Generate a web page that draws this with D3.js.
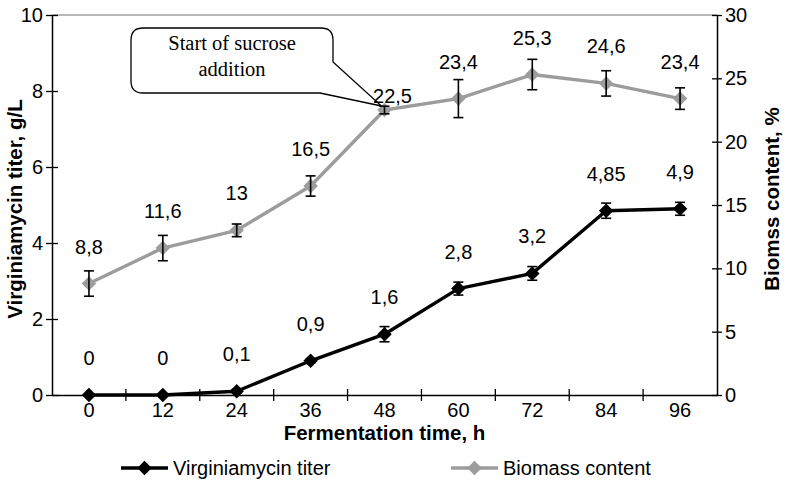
<!DOCTYPE html>
<html>
<head>
<meta charset="utf-8">
<script src="https://cdn.jsdelivr.net/npm/d3@7"></script>
<style>
  html, body { margin: 0; padding: 0; background: #fff; }
  svg { display: block; font-family: "Liberation Sans", Arial, sans-serif; }
</style>
</head>
<body>
<svg id="chart" width="786" height="499"></svg>
<script>
// ---- data ----
const hours = ["0", "12", "24", "36", "48", "60", "72", "84", "96"];
const titer = [0, 0, 0.1, 0.9, 1.6, 2.8, 3.2, 4.85, 4.9];
const titerErr = [0, 0, 0.05, 0.05, 0.2, 0.17, 0.18, 0.2, 0.17];
const titerLabels = ["0", "0", "0,1", "0,9", "1,6", "2,8", "3,2", "4,85", "4,9"];
const biomass = [8.8, 11.6, 13, 16.5, 22.5, 23.4, 25.3, 24.6, 23.4];
const biomassErr = [1.0, 1.0, 0.5, 0.8, 0.3, 1.5, 1.2, 1.0, 0.85];
const biomassLabels = ["8,8", "11,6", "13", "16,5", "22,5", "23,4", "25,3", "24,6", "23,4"];
const leftTicks = [0, 2, 4, 6, 8, 10];
const rightTicks = [0, 5, 10, 15, 20, 25, 30];
const seriesNames = ["Virginiamycin titer", "Biomass content"];
const calloutText = ["Start of sucrose", "addition"];

// ---- layout ----
const L = 52, R = 717, T = 15, B = 395;
const BLACK = "#000", GRAY = "#9c9c9c";
const svg = d3.select("#chart");

const x = d3.scaleBand().domain(hours).range([L, R]).padding(0);
const cx = h => x(h) + x.bandwidth() / 2;
const yL = d3.scaleLinear().domain([0, 10]).range([B, T]);
const yR = d3.scaleLinear().domain([0, 30]).range([B, T]);

// top border
svg.append("line").attr("x1", L).attr("x2", R).attr("y1", T).attr("y2", T)
  .attr("stroke", "#a0a0a0").attr("stroke-width", 1.5);

// axes
function styleAxis(g) {
  g.selectAll(".domain").attr("stroke", "#000").attr("stroke-width", 1.5);
  g.selectAll(".tick line").attr("stroke", "#000").attr("stroke-width", 1.3);
  g.selectAll("text").attr("font-size", 20).attr("fill", "#000")
    .attr("font-family", "Liberation Sans, Arial, sans-serif");
}
const gx = svg.append("g").attr("transform", `translate(0,${B})`)
  .call(d3.axisBottom(x).tickSize(0).tickPadding(8).tickSizeOuter(0));
styleAxis(gx);
gx.selectAll(".tick line").remove();
// crossing tick marks at category boundaries
const bounds = hours.map(h => x(h)).slice(1);
gx.selectAll(".bnd").data(bounds).join("line").attr("class", "bnd")
  .attr("x1", d => d).attr("x2", d => d).attr("y1", -6).attr("y2", 6)
  .attr("stroke", "#000").attr("stroke-width", 1.3);

const gl = svg.append("g").attr("transform", `translate(${L},0)`)
  .call(d3.axisLeft(yL).tickValues(leftTicks).tickSize(6).tickPadding(4).tickSizeOuter(0));
styleAxis(gl);
gl.selectAll(".tick line").attr("x2", 6).attr("x1", -6);
gl.selectAll(".tick text").attr("x", -9);

const gr = svg.append("g").attr("transform", `translate(${R},0)`)
  .call(d3.axisRight(yR).tickValues(rightTicks).tickSize(5).tickPadding(4).tickSizeOuter(0));
styleAxis(gr);
gr.selectAll(".tick line").attr("x1", -5).attr("x2", 5);
gr.selectAll(".tick text").attr("x", 8);

// axis titles
svg.append("text").attr("x", (L + R) / 2).attr("y", 433).attr("dy", "0.35em")
  .attr("text-anchor", "middle").attr("font-size", 20.5).attr("font-weight", "bold")
  .text("Fermentation time, h");
svg.append("text").attr("transform", "translate(15,209) rotate(-90)").attr("dy", "0.35em")
  .attr("text-anchor", "middle").attr("font-size", 20.5).attr("font-weight", "bold")
  .text("Virginiamycin titer, g/L");
svg.append("text").attr("transform", "translate(772,199) rotate(-90)").attr("dy", "0.35em")
  .attr("text-anchor", "middle").attr("font-size", 20.5).attr("font-weight", "bold")
  .text("Biomss content, %");

// diamond symbol
const diamond = d3.symbol().type(d3.symbolSquare).size(105);

// callout (drawn beneath the series labels)
const bx0 = 131, bx1 = 333, by0 = 28, by1 = 93, r = 12;
const tip = [cx("48") - 3, yR(biomass[4]) - 4];
const p = d3.path();
p.moveTo(bx0 + r, by0);
p.lineTo(bx1 - r, by0);
p.quadraticCurveTo(bx1, by0, bx1, by0 + r);
p.lineTo(bx1, 62);
p.lineTo(tip[0], tip[1]);
p.lineTo(320, by1);
p.lineTo(bx0 + r, by1);
p.quadraticCurveTo(bx0, by1, bx0, by1 - r);
p.lineTo(bx0, by0 + r);
p.quadraticCurveTo(bx0, by0, bx0 + r, by0);
p.closePath();
svg.append("path").attr("d", p.toString()).attr("fill", "#fff")
  .attr("stroke", "#000").attr("stroke-width", 1.3);
svg.append("g").selectAll("text").data(calloutText).join("text")
  .attr("x", (bx0 + bx1) / 2).attr("y", (d, i) => 43 + i * 26).attr("dy", "0.35em")
  .attr("text-anchor", "middle").attr("font-family", "Liberation Serif, Times New Roman, serif")
  .attr("font-size", 20.5).text(d => d);

function drawSeries(vals, errs, labels, yScale, color, curve, labelPos) {
  const pts = vals.map((v, i) => ({ h: hours[i], v, e: errs[i], l: labels[i], i }));
  svg.append("path").datum(pts)
    .attr("fill", "none").attr("stroke", color).attr("stroke-width", 3.4)
    .attr("stroke-linejoin", "round")
    .attr("d", d3.line().x(d => cx(d.h)).y(d => yScale(d.v)).curve(curve));
  // markers
  svg.append("g").selectAll("path").data(pts).join("path")
    .attr("d", diamond)
    .attr("transform", d => `translate(${cx(d.h)},${yScale(d.v)}) rotate(45)`)
    .attr("fill", color);
  // error bars
  const eb = svg.append("g").attr("stroke", "#000").attr("stroke-width", 1.6);
  pts.filter(d => d.e > 0).forEach(d => {
    const x0 = cx(d.h), y1 = yScale(d.v + d.e), y2 = yScale(d.v - d.e);
    eb.append("line").attr("x1", x0).attr("x2", x0).attr("y1", y1).attr("y2", y2);
    eb.append("line").attr("x1", x0 - 5).attr("x2", x0 + 5).attr("y1", y1).attr("y2", y1);
    eb.append("line").attr("x1", x0 - 5).attr("x2", x0 + 5).attr("y1", y2).attr("y2", y2);
  });
  // labels
  svg.append("g").selectAll("text").data(pts).join("text")
    .attr("x", d => cx(d.h) + (labelPos(d).dx || 0))
    .attr("y", d => yScale(d.v) + labelPos(d).dy)
    .attr("dy", "0.35em").attr("text-anchor", "middle").attr("font-size", 20)
    .text(d => d.l);
}

drawSeries(biomass, biomassErr, biomassLabels, yR, GRAY, d3.curveLinear,
  d => d.i === 4 ? { dy: -14, dx: 8 } : { dy: -37 });
drawSeries(titer, titerErr, titerLabels, yL, BLACK, d3.curveLinear,
  d => ({ dy: -37 }));

// legend
const legend = [
  { name: seriesNames[0], color: BLACK, x0: 121 },
  { name: seriesNames[1], color: GRAY, x0: 451 }
];
const lg = svg.append("g");
legend.forEach(d => {
  lg.append("line").attr("x1", d.x0).attr("x2", d.x0 + 47).attr("y1", 468).attr("y2", 468)
    .attr("stroke", d.color).attr("stroke-width", 3.4);
  lg.append("path").attr("d", diamond)
    .attr("transform", `translate(${d.x0 + 23.5},468) rotate(45)`).attr("fill", d.color);
  lg.append("text").attr("x", d.x0 + 52).attr("y", 468).attr("dy", "0.35em")
    .attr("font-size", 20).text(d.name);
});
</script>
</body>
</html>
